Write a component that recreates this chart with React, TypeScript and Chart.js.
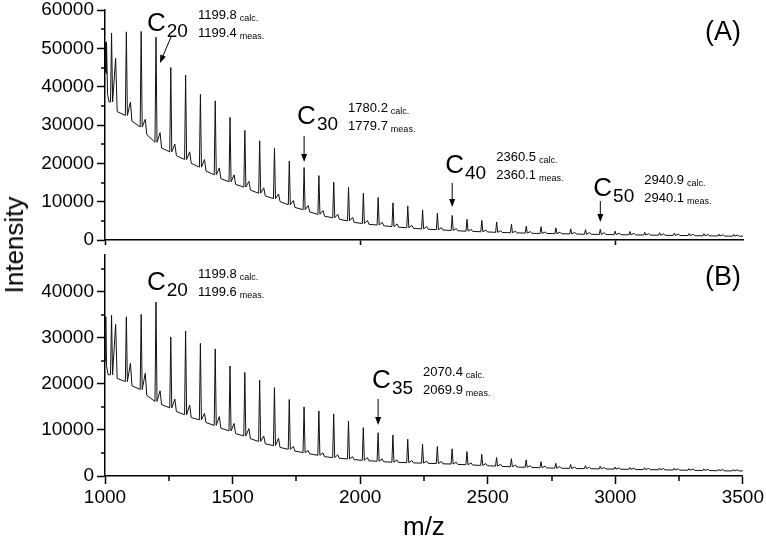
import React, { useEffect, useRef } from 'react';
import { Chart, registerables } from 'chart.js';

Chart.register(...registerables);

const FONT = '"Liberation Sans", Arial, sans-serif';

// Main oligomer peak positions (m/z), C17 ... C59
const peakMz = [1025.7, 1083.7, 1141.8, 1199.8, 1257.8, 1315.9, 1373.9, 1432.0, 1490.0, 1548.0,
  1606.1, 1664.1, 1722.2, 1780.2, 1838.2, 1896.3, 1954.3, 2012.4, 2070.4, 2128.4,
  2186.5, 2244.5, 2302.5, 2360.5, 2418.6, 2476.6, 2534.7, 2592.7, 2650.7, 2708.8,
  2766.8, 2824.9, 2882.9, 2940.9, 2999.0, 3057.0, 3115.0, 3173.1, 3231.1, 3289.2,
  3347.2, 3405.2, 3463.3];

// Panel A
const heightA = [54000, 54300, 54400, 52900, 45000, 43000, 38000, 36300, 32000, 28600,
  25900, 23900, 20600, 18900, 16800, 15100, 13700, 12200, 11100, 9700,
  8900, 7800, 7000, 6400, 5400, 5100, 4700, 4100, 3600, 3450,
  3150, 2900, 2700, 2800, 2300, 2200, 2000, 1900, 1800, 1700,
  1650, 1550, 1500];
const baseA = [36000, 32500, 29500, 25500, 23000, 21000, 19000, 17000, 15200, 13800,
  12200, 10800, 9200, 7900, 6700, 5800, 5000, 4300, 3900, 3500,
  3200, 2900, 2700, 2500, 2300, 2150, 2000, 1900, 1800, 1700,
  1650, 1600, 1500, 1450, 1400, 1350, 1300, 1250, 1200, 1150,
  1100, 1050, 1000];
const sideA = [47400, 36000, 31500, 28000, 25000, 23000, 21000, 18800, 17000, 15300,
  13600, 12000, 10300, 9000, 7700, 6700, 5900, 5100, 4600, 4200,
  3800, 3500, 3200, 3000, 2800, 2600, 2450, 2300, 2200, 2100,
  2050, 2000, 1950, 1900, 1800, 1750, 1650, 1600, 1550, 1450,
  1400, 1350, 1300];
const midA = [33500, 31000, 27500, 24000, 22000, 20000, 18000, 16000, 14500, 13000,
  11500, 10000, 8500, 7300, 6200, 5400, 4600, 4100, 3700, 3350,
  3050, 2800, 2600, 2400, 2250, 2100, 1950, 1850, 1750, 1700,
  1620, 1550, 1480, 1420, 1380, 1320, 1280, 1220, 1180, 1120,
  1080, 1020, 1000];
const startMzA = [1000, 1002, 1004, 1006, 1010, 1016];
const startA = [44000, 51500, 43500, 51700, 38000, 36000];
const endA = 1000;

// Panel B
const heightB = [34900, 34600, 35100, 37800, 30200, 31500, 28800, 27600, 23900, 22500,
  20800, 19200, 16600, 15000, 14100, 13500, 11900, 10500, 9400, 8900,
  8000, 6900, 6400, 5900, 5300, 4700, 4000, 3750, 3500, 3100,
  2750, 2500, 2250, 2100, 1950, 1850, 1800, 1750, 1700, 1600,
  1550, 1500, 1450];
const baseB = [22000, 20500, 18800, 16200, 14800, 13300, 12200, 11000, 9800, 8700,
  7500, 6600, 5800, 5100, 4500, 4000, 3700, 3400, 3200, 3000,
  2900, 2800, 2700, 2600, 2450, 2300, 2150, 2000, 1900, 1800,
  1700, 1650, 1600, 1550, 1500, 1450, 1400, 1350, 1300, 1250,
  1200, 1150, 1100];
const sideB = [32900, 24500, 22300, 18500, 16700, 15400, 13600, 12900, 11400, 10300,
  8700, 8200, 6400, 5500, 5000, 4600, 4200, 4000, 3700, 3500,
  3350, 3250, 3150, 3000, 2850, 2700, 2550, 2400, 2250, 2150,
  2050, 1950, 1900, 1850, 1750, 1700, 1650, 1600, 1550, 1500,
  1450, 1400, 1350];
const midB = [21200, 19600, 17500, 15500, 14000, 12700, 11600, 10400, 9200, 8100,
  7000, 6200, 5400, 4800, 4200, 3850, 3550, 3300, 3100, 2950,
  2850, 2750, 2650, 2520, 2380, 2220, 2080, 1950, 1850, 1750,
  1680, 1620, 1580, 1520, 1480, 1420, 1380, 1320, 1280, 1220,
  1180, 1120, 1100];
const startMzB = [1000, 1003, 1006, 1012];
const startB = [25000, 34600, 24000, 22000];
const endB = 1100;

const xMin = 1000;
const xMax = 3500;
const xTicksTop = [1000, 2000, 3000];
const xTicksBottom = [1000, 1250, 1500, 1750, 2000, 2250, 2500, 2750, 3000, 3250, 3500];
const yTicksA = [0, 5000, 10000, 15000, 20000, 25000, 30000, 35000, 40000, 45000, 50000, 55000, 60000];
const yTicksB = [0, 5000, 10000, 15000, 20000, 25000, 30000, 35000, 40000, 45000];
const yMaxA = 60000;
const yMaxB = 48000;

const annA = [
  { sub: '20', calc: '1199.8', meas: '1199.4', mz: 1199.8 },
  { sub: '30', calc: '1780.2', meas: '1779.7', mz: 1780.2 },
  { sub: '40', calc: '2360.5', meas: '2360.1', mz: 2360.5 },
  { sub: '50', calc: '2940.9', meas: '2940.1', mz: 2940.9 },
];
const annB = [
  { sub: '20', calc: '1199.8', meas: '1199.6', mz: 1199.8 },
  { sub: '35', calc: '2070.4', meas: '2069.9', mz: 2070.4 },
];

// layout (pixels, canvas coords)
const layoutA = [
  { dx: -9, cy: 31, arrow: [15, 37, 4, 63] },
  { dx: -7, cy: 124, arrow: [0, 136, 0, 162] },
  { dx: -7, cy: 173, arrow: [0, 183, 0, 207] },
  { dx: -7, cy: 196, arrow: [0, 201, 0, 222] },
];
const layoutB = [
  { dx: -9, cy: 40, arrow: null },
  { dx: -6, cy: 138, arrow: [0, 149, 0, 175] },
];

function buildTrace(sMz: number[], sY: number[], base: number[], main: number[], side: number[], mid: number[], endY: number) {
  const pts: { x: number; y: number }[] = sMz.map((x, i) => ({ x, y: sY[i] }));
  peakMz.forEach((m, i) => {
    pts.push({ x: m - 4, y: base[i] });
    pts.push({ x: m, y: main[i] });
    pts.push({ x: m + 4, y: base[i] });
    pts.push({ x: m + 16, y: side[i] });
    pts.push({ x: m + 22, y: mid[i] });
  });
  pts.push({ x: xMax, y: endY });
  return pts;
}

function drawArrow(ctx: CanvasRenderingContext2D, x1: number, y1: number, x2: number, y2: number) {
  const ang = Math.atan2(y2 - y1, x2 - x1);
  const L = 8, W = 3;
  ctx.beginPath();
  ctx.moveTo(x1, y1);
  ctx.lineTo(x2 - Math.cos(ang) * L * 0.8, y2 - Math.sin(ang) * L * 0.8);
  ctx.stroke();
  ctx.beginPath();
  ctx.moveTo(x2, y2);
  ctx.lineTo(x2 - Math.cos(ang) * L - Math.sin(ang) * W, y2 - Math.sin(ang) * L + Math.cos(ang) * W);
  ctx.lineTo(x2 - Math.cos(ang) * L + Math.sin(ang) * W, y2 - Math.sin(ang) * L - Math.cos(ang) * W);
  ctx.closePath();
  ctx.fill();
}

function makeAnnPlugin(ann: typeof annA, layout: typeof layoutA, panel: string, panelY: number) {
  return {
    id: 'ann' + panel,
    afterDraw(chart: any) {
      const ctx: CanvasRenderingContext2D = chart.ctx;
      const xs = chart.scales.x;
      ctx.save();
      ctx.fillStyle = '#000';
      ctx.strokeStyle = '#000';
      ctx.lineWidth = 1;
      ctx.textBaseline = 'alphabetic';
      ctx.textAlign = 'left';
      ann.forEach((a, i) => {
        const L = layout[i];
        const px = xs.getPixelForValue(a.mz);
        const cx = px + L.dx;
        ctx.font = `26px ${FONT}`;
        ctx.fillText('C', cx, L.cy);
        const cw = ctx.measureText('C').width;
        ctx.font = `19px ${FONT}`;
        ctx.fillText(a.sub, cx + cw + 1, L.cy + 6);
        const nx = cx + 51;
        ctx.font = `13px ${FONT}`;
        ctx.fillText(a.calc, nx, L.cy - 12);
        let w = ctx.measureText(a.calc).width;
        ctx.font = `9px ${FONT}`;
        ctx.fillText('calc.', nx + w + 3, L.cy - 10);
        ctx.font = `13px ${FONT}`;
        ctx.fillText(a.meas, nx, L.cy + 6);
        w = ctx.measureText(a.meas).width;
        ctx.font = `9px ${FONT}`;
        ctx.fillText('meas.', nx + w + 3, L.cy + 8);
        if (L.arrow) {
          drawArrow(ctx, px + L.arrow[0], L.arrow[1], px + L.arrow[2], L.arrow[3]);
        }
      });
      ctx.font = `27px ${FONT}`;
      ctx.fillText(`(${panel})`, 705, panelY);
      ctx.restore();
    },
  };
}

const minorTicks = {
  id: 'minorTicks',
  afterDraw(chart: any) {
    const ctx: CanvasRenderingContext2D = chart.ctx;
    const { x, y } = chart.scales;
    ctx.save();
    ctx.strokeStyle = '#000';
    ctx.lineWidth = 1.5;
    y.ticks.forEach((t: any) => {
      if (t.value % 10000 !== 0) {
        const py = Math.round(y.getPixelForValue(t.value));
        ctx.beginPath();
        ctx.moveTo(y.right - 4, py);
        ctx.lineTo(y.right, py);
        ctx.stroke();
      }
    });
    x.ticks.forEach((t: any) => {
      if (t.value % 500 !== 0) {
        const px = Math.round(x.getPixelForValue(t.value));
        ctx.beginPath();
        ctx.moveTo(px, x.top);
        ctx.lineTo(px, x.top + 5);
        ctx.stroke();
      }
    });
    ctx.restore();
  },
};

function makeConfig(data: any[], top: boolean): any {
  const yTicks = top ? yTicksA : yTicksB;
  return {
    type: 'line',
    data: {
      datasets: [{
        data,
        borderColor: '#111',
        borderWidth: 1,
        pointRadius: 0,
        tension: 0,
        fill: false,
      }],
    },
    options: {
      animation: false,
      responsive: false,
      events: [],
      parsing: false,
      plugins: { legend: { display: false }, tooltip: { enabled: false } },
      layout: { padding: { left: 0, right: 23, top: top ? 10 : 5, bottom: 0 } },
      scales: {
        x: {
          type: 'linear',
          min: xMin,
          max: xMax,
          afterBuildTicks: (s: any) => { s.ticks = (top ? xTicksTop : xTicksBottom).map((v) => ({ value: v })); },
          ticks: {
            display: !top,
            autoSkip: false,
            maxRotation: 0,
            color: '#000',
            font: { family: FONT, size: 19 },
            padding: 2,
            callback: (v: number) => (v % 500 === 0 ? String(v) : ''),
          },
          grid: {
            drawOnChartArea: false,
            tickLength: top ? 5 : 8,
            tickWidth: 1.5,
            tickColor: (c: any) => (c.tick && c.tick.value % 500 === 0 ? '#000' : 'rgba(0,0,0,0)'),
          },
          border: { color: '#000', width: 1.5 },
          title: top ? { display: false } : {
            display: true, text: 'm/z', color: '#000', font: { family: FONT, size: 26 }, padding: 0,
          },
          afterFit: (s: any) => { s.height = top ? 10 : 67; },
        },
        y: {
          type: 'linear',
          min: 0,
          max: top ? yMaxA : yMaxB,
          afterBuildTicks: (s: any) => { s.ticks = yTicks.map((v) => ({ value: v })); },
          ticks: {
            autoSkip: false,
            color: '#000',
            font: { family: FONT, size: 19, lineHeight: 0.1 },
            padding: 3,
            callback: (v: number) => (v % 10000 === 0 ? String(v) : ''),
          },
          grid: {
            drawOnChartArea: false,
            tickLength: 8,
            tickWidth: 1.5,
            tickColor: (c: any) => (c.tick && c.tick.value % 10000 === 0 ? '#000' : 'rgba(0,0,0,0)'),
          },
          border: { color: '#000', width: 1.5 },
          afterFit: (s: any) => { s.width = 105; },
        },
      },
    },
    plugins: [
      minorTicks,
      top ? makeAnnPlugin(annA, layoutA, 'A', 40) : makeAnnPlugin(annB, layoutB, 'B', 35),
    ],
  };
}

export default function App() {
  const topRef = useRef<HTMLCanvasElement>(null);
  const botRef = useRef<HTMLCanvasElement>(null);
  useEffect(() => {
    const traceA = buildTrace(startMzA, startA, baseA, heightA, sideA, midA, endA);
    const traceB = buildTrace(startMzB, startB, baseB, heightB, sideB, midB, endB);
    const c1 = new Chart(topRef.current!, makeConfig(traceA, true));
    const c2 = new Chart(botRef.current!, makeConfig(traceB, false));
    return () => { c1.destroy(); c2.destroy(); };
  }, []);
  return (
    <div style={{ position: 'absolute', left: 0, top: 0, width: 766, height: 543, background: '#fff', overflow: 'hidden' }}>
      <canvas ref={topRef} width={766} height={250} style={{ position: 'absolute', left: 0, top: 0, display: 'block' }} />
      <canvas ref={botRef} width={766} height={293} style={{ position: 'absolute', left: 0, top: 250, display: 'block' }} />
      <div style={{
        position: 'absolute', left: 14, top: 245, transform: 'translate(-50%, -50%) rotate(-90deg)',
        fontFamily: FONT, fontSize: 26, color: '#000', whiteSpace: 'nowrap', lineHeight: 1,
      }}>Intensity</div>
    </div>
  );
}
